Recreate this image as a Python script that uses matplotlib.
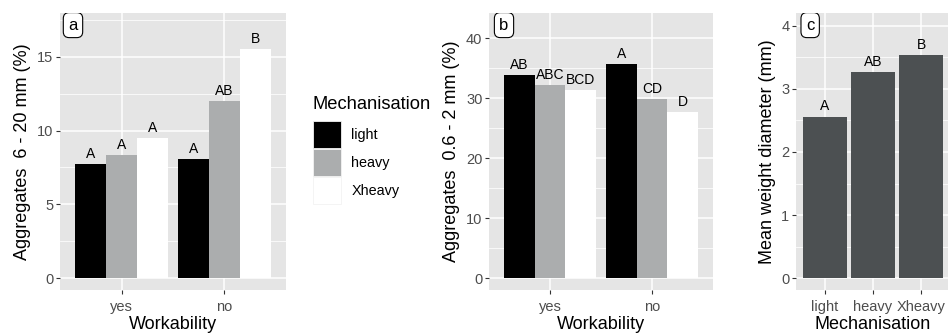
import matplotlib
matplotlib.use("Agg")
import matplotlib.pyplot as plt
import numpy as np
from matplotlib.patches import Patch
from matplotlib.ticker import MultipleLocator

plt.rcParams['font.family'] = ['Liberation Sans', 'DejaVu Sans']

# group means and letters from the post-hoc test
workability = ['yes', 'no']
mechanisation = ['light', 'heavy', 'Xheavy']
fills = ['#000000', '#ABADAE', '#FFFFFF']

agg_6_20 = {'light': [7.71, 8.09], 'heavy': [8.34, 12.0], 'Xheavy': [9.47, 15.49]}
let_6_20 = {'light': ['A', 'A'], 'heavy': ['A', 'AB'], 'Xheavy': ['A', 'B']}

agg_06_2 = {'light': [33.8, 35.67], 'heavy': [32.15, 29.8], 'Xheavy': [31.4, 27.7]}
let_06_2 = {'light': ['AB', 'A'], 'heavy': ['ABC', 'CD'], 'Xheavy': ['BCD', 'D']}

mwd = [2.56, 3.27, 3.54]
let_mwd = ['A', 'AB', 'B']

W, H = 948, 335
fig = plt.figure(figsize=(W / 100, H / 100), dpi=100)

panel_bg = '#E5E5E5'
tick_col = '#4D4D4D'


def gg_axes(rect_px, ylim, ystep):
    x0, y0, x1, y1 = rect_px
    ax = fig.add_axes([x0 / W, 1 - y1 / H, (x1 - x0) / W, (y1 - y0) / H])
    ax.set_facecolor(panel_bg)
    for s in ax.spines.values():
        s.set_visible(False)
    ax.set_ylim(*ylim)
    ax.yaxis.set_major_locator(MultipleLocator(ystep))
    ax.yaxis.set_minor_locator(MultipleLocator(ystep / 2))
    ax.grid(which='major', color='white', lw=1.1)
    ax.grid(which='minor', axis='y', color='white', lw=0.55)
    ax.set_axisbelow(True)
    ax.tick_params(which='major', length=2.75, width=0.8, color='#333333',
                   labelcolor=tick_col, labelsize=10.5, pad=2)
    ax.tick_params(axis='x', which='major', pad=4.5)
    ax.tick_params(which='minor', length=0)
    return ax


def tag(ax, s, x):
    # rounded white box, its top cut off by the panel edge
    t = ax.text(x, 0.94, s, transform=ax.transAxes, ha='center', va='baseline',
                fontsize=12, zorder=5, clip_on=True,
                bbox=dict(boxstyle='round,pad=0.3,rounding_size=0.35',
                          fc='white', ec='black', lw=0.8))
    t.get_bbox_patch().set_clip_on(True)


def dodged(ax, values, letters, off):
    x = np.arange(len(workability))
    for i, m in enumerate(mechanisation):
        xs = x + (i - 1) * 0.3
        ax.bar(xs, values[m], width=0.3, color=fills[i], zorder=2)
        for xx, v, l in zip(xs, values[m], letters[m]):
            ax.text(xx, v + off, l, ha='center', va='bottom', fontsize=10)
    ax.set_xticks(x, workability)
    ax.set_xlim(-0.6, 1.6)
    ax.set_xlabel('Workability', fontsize=13, labelpad=1.5)


# (a) aggregates 6 - 20 mm
ax1 = gg_axes((60, 13, 286, 290), (-0.79, 17.95), 5)
dodged(ax1, agg_6_20, let_6_20, 0.2)
ax1.set_ylabel('Aggregates  6 - 20 mm (%)', fontsize=13, labelpad=4)
tag(ax1, 'a', 0.0575)

# (b) aggregates 0.6 - 2 mm
ax2 = gg_axes((489, 13, 713, 290), (-1.96, 44.2), 10)
dodged(ax2, agg_06_2, let_06_2, 0.5)
ax2.set_ylabel('Aggregates  0.6 - 2 mm (%)', fontsize=13, labelpad=4)
tag(ax2, 'b', 0.067)

# (c) mean weight diameter
ax3 = gg_axes((796, 13, 950, 290), (-0.186, 4.2), 1)
xc = np.arange(len(mechanisation))
ax3.bar(xc, mwd, width=0.9, color='#4C5052', zorder=2)
for xx, v, l in zip(xc, mwd, let_mwd):
    ax3.text(xx, v + 0.05, l, ha='center', va='bottom', fontsize=10)
ax3.set_xticks(xc, mechanisation)
ax3.set_xlim(-0.6, 2.6)
ax3.set_xlabel('Mechanisation', fontsize=13, labelpad=1.5)
ax3.set_ylabel('Mean weight diameter (mm)', fontsize=13, labelpad=4)
tag(ax3, 'c', 0.092)

handles = [Patch(fc=c, ec='#F2F2F2', lw=0.6) for c in fills]
leg = fig.legend(handles, mechanisation, title='Mechanisation',
                 loc='upper left', bbox_to_anchor=(313 / W, 1 - 96 / H),
                 frameon=False, fontsize=10.4, title_fontsize=13.2,
                 handlelength=1.95, handleheight=2.45, labelspacing=0.1,
                 handletextpad=0.7, borderpad=0, borderaxespad=0,
                 alignment='left')
leg._legend_box.sep = 6

fig.savefig('out.png', dpi=100)
